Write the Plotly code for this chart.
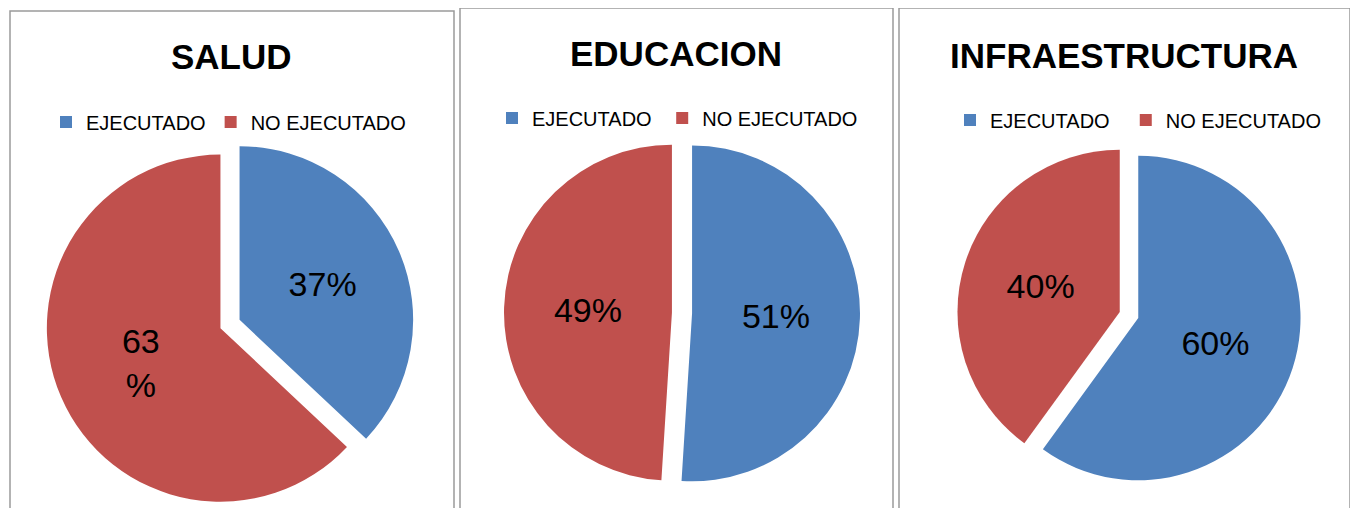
import plotly.graph_objects as go

ESTADOS = ["EJECUTADO", "NO EJECUTADO"]
COLORES = ["#4F81BD", "#C0504D"]

SECTORES = ["SALUD", "EDUCACION", "INFRAESTRUCTURA"]
SALUD = [37, 63]
EDUCACION = [51, 49]
INFRAESTRUCTURA = [60, 40]
ETIQUETAS = [["37%", "63<br>%"], ["51%", "49%"], ["60%", "40%"]]

# the page body keeps its default 8px margin, so the figure is a bit smaller
OFF = 8
W, H = 1358 - 2 * OFF, 516 - 2 * OFF


def px_x(v):
    return (v - OFF) / W


def px_y(v):
    # pixel from top of the window -> paper fraction from bottom
    return (H - (v - OFF)) / H


fig = go.Figure()

# pie centre (px from left, px from top of the window) and half size of domain
centros = [(230, 328), (682, 313), (1129, 315)]
medias = [188, 178, 172]
leyendas = ["legend", "legend2", "legend3"]

for i, valores in enumerate([SALUD, EDUCACION, INFRAESTRUCTURA]):
    cx, cy = centros[i]
    media = medias[i]
    # trailing blanks keep the labels apart, so every pie gets its own legend
    etiquetas = [e + " " * i for e in ESTADOS]
    fig.add_trace(go.Pie(
        labels=etiquetas,
        values=valores,
        text=ETIQUETAS[i],
        textinfo="text",
        textposition="inside",
        insidetextorientation="horizontal",
        textfont=dict(size=34, color="black", family="Liberation Sans"),
        marker=dict(colors=COLORES, line=dict(width=0)),
        sort=False,
        direction="clockwise",
        rotation=0,
        pull=[0.06, 0.06],
        domain=dict(x=[px_x(cx - media), px_x(cx + media)],
                    y=[max(0, px_y(cy + media)), min(1, px_y(cy - media))]),
        legend=leyendas[i],
        hoverinfo="label+percent",
    ))

# titles
titulos_pos = [(231, 57), (676, 54), (1124, 56)]
for nombre, (tx, ty) in zip(SECTORES, titulos_pos):
    fig.add_annotation(
        text="<b>%s</b>" % nombre, x=px_x(tx), y=px_y(ty),
        xref="paper", yref="paper", showarrow=False,
        xanchor="center", yanchor="middle",
        font=dict(size=35, color="black", family="Liberation Sans"),
    )

# panel borders
paneles = [(10, 454, 11), (460, 893, 8), (899, 1350, 8)]
for x0, x1, y1 in paneles:
    fig.add_shape(type="rect", xref="paper", yref="paper",
                  x0=px_x(x0), x1=px_x(x1), y0=-0.1, y1=px_y(y1),
                  line=dict(color="#9a9a9a", width=1.5))

ley_pos = [(46, 122), (492, 118), (950, 120)]
ley_cfg = {}
for nombre, (lx, ly) in zip(leyendas, ley_pos):
    ley_cfg[nombre] = dict(
        orientation="h", x=px_x(lx), y=px_y(ly),
        xanchor="left", yanchor="middle",
        font=dict(size=20, color="black", family="Liberation Sans"),
        itemwidth=30, traceorder="normal",
        bgcolor="rgba(0,0,0,0)",
    )

fig.update_layout(
    width=W, height=H,
    margin=dict(l=0, r=0, t=0, b=0),
    paper_bgcolor="white",
    plot_bgcolor="white",
    **ley_cfg,
)

fig.write_html("out.html")
